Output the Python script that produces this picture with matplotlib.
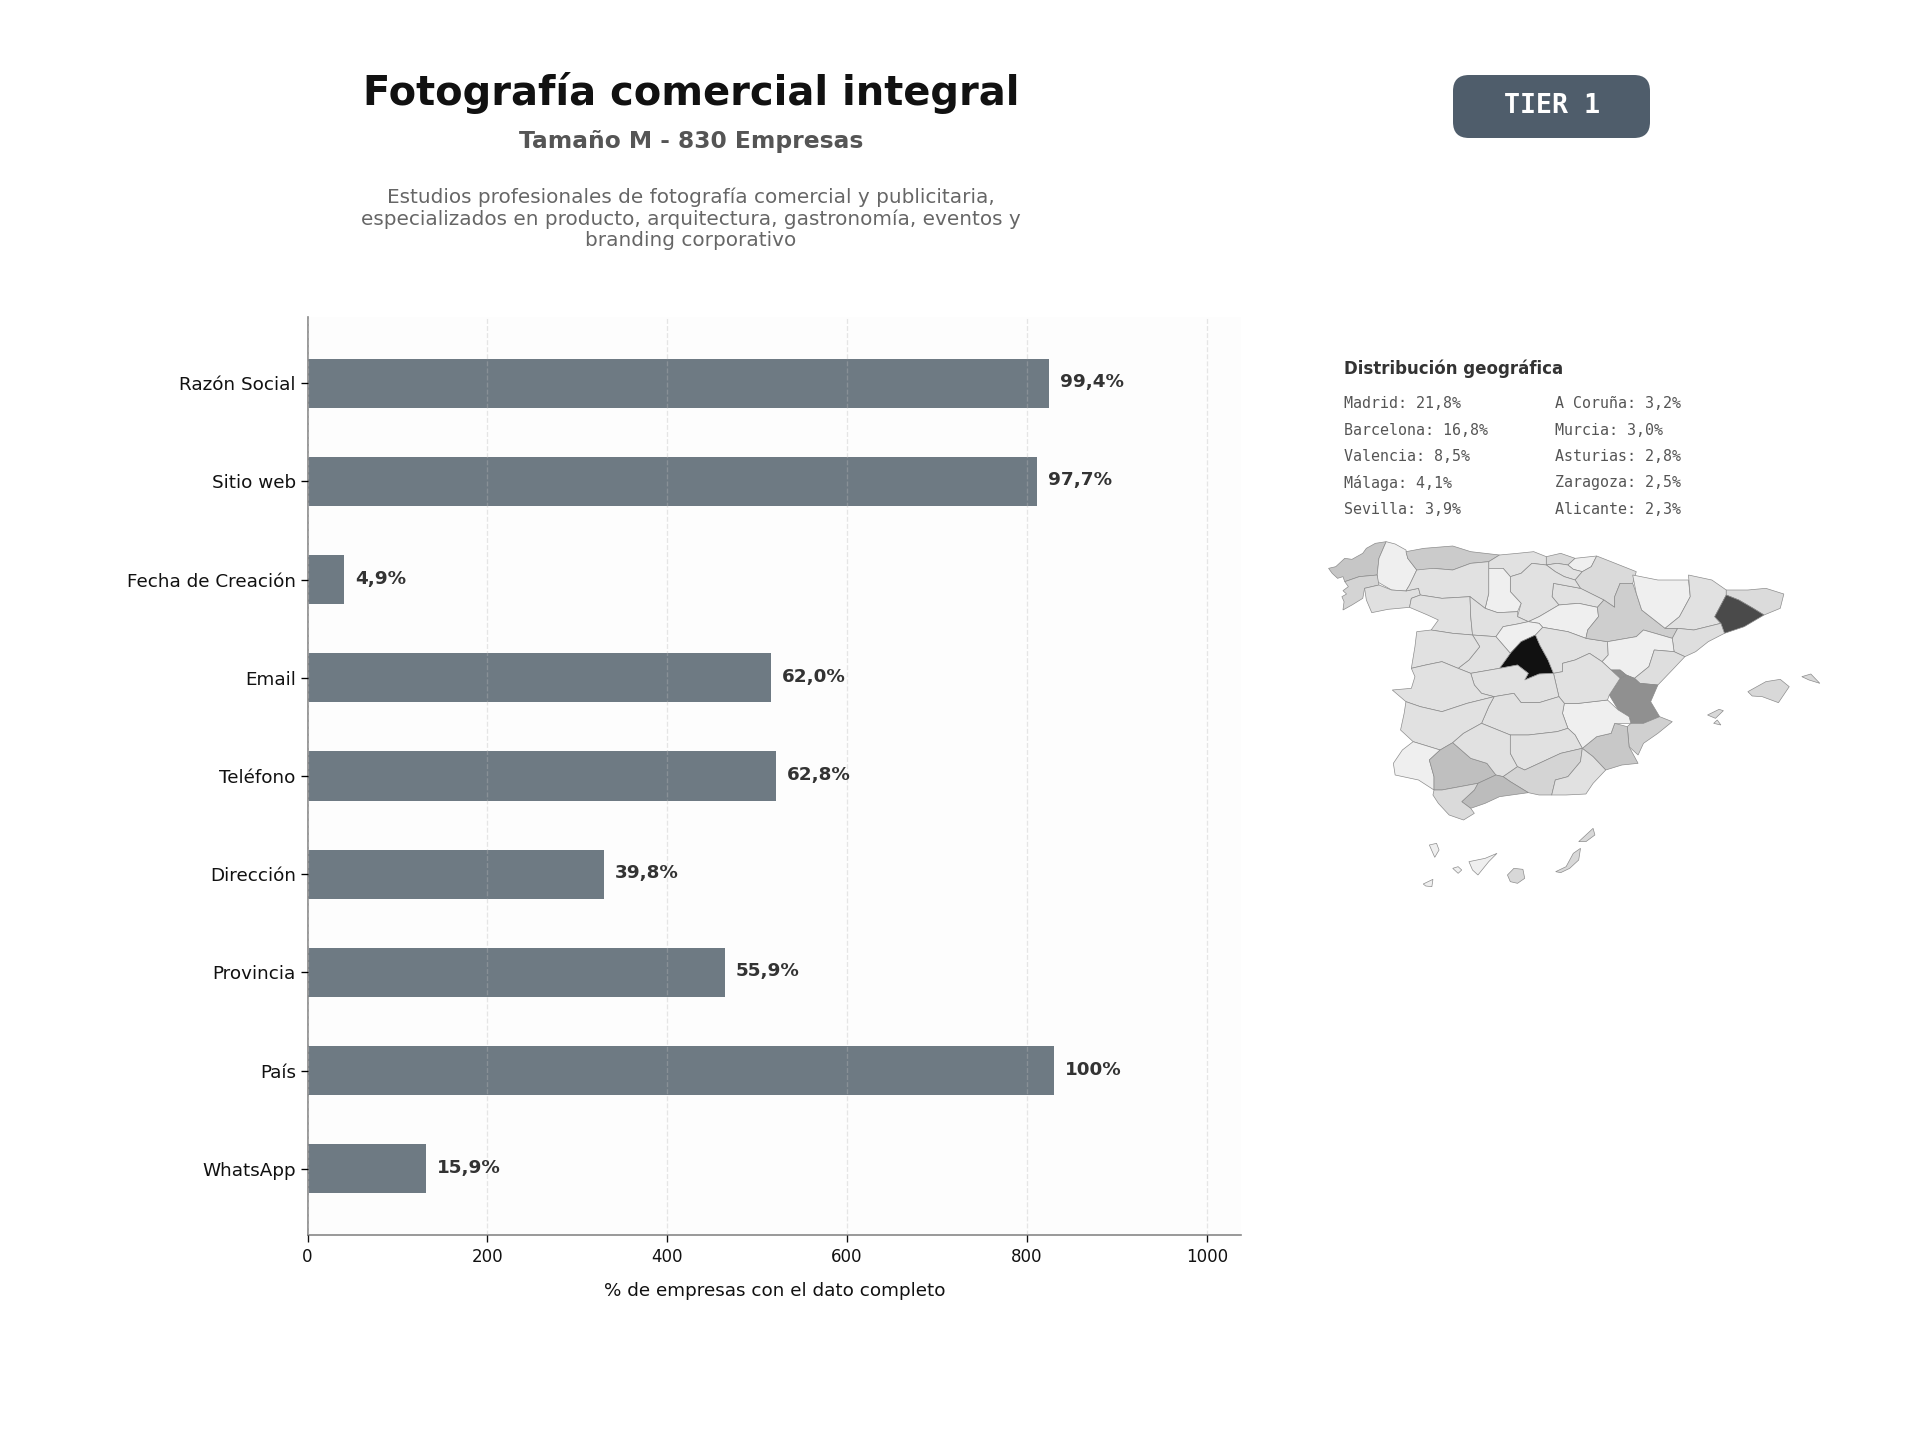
import matplotlib
matplotlib.use("Agg")
import matplotlib.pyplot as plt
from matplotlib.colors import LinearSegmentedColormap
from matplotlib.patches import FancyBboxPatch, Polygon

W, H = 1920, 1440

categories = ["Razón Social", "Sitio web", "Fecha de Creación", "Email", "Teléfono",
              "Dirección", "Provincia", "País", "WhatsApp"]
counts = [825, 811, 41, 515, 521, 330, 464, 830, 132]
pct_labels = ["99,4%", "97,7%", "4,9%", "62,0%", "62,8%", "39,8%", "55,9%", "100%", "15,9%"]
x_ticks = [0, 200, 400, 600, 800, 1000]

title = "Fotografía comercial integral"
subtitle = "Tamaño M - 830 Empresas"
description = ("Estudios profesionales de fotografía comercial y publicitaria,\n"
               "especializados en producto, arquitectura, gastronomía, eventos y\n"
               "branding corporativo")
geo_col1 = ["Madrid: 21,8%", "Barcelona: 16,8%", "Valencia: 8,5%", "Málaga: 4,1%", "Sevilla: 3,9%"]
geo_col2 = ["A Coruña: 3,2%", "Murcia: 3,0%", "Asturias: 2,8%", "Zaragoza: 2,5%", "Alicante: 2,3%"]

# Province outlines: (share %, outline)
provinces = {
 "A Coruña": (3.2, [(85,145),(105,140),(130,115),(150,118),(180,100),(190,85),(215,70),(245,65),(225,115),(220,165),(170,170),(130,185),(125,170),(110,175),(95,160)]),
 "Lugo": (0.3, [(245,65),(270,72),(300,90),(305,115),(330,150),(310,195),(300,213),(260,210),(220,185),(220,165),(225,115)]),
 "Pontevedra": (2.0, [(130,185),(170,170),(220,165),(225,195),(185,205),(180,235),(150,255),(125,270),(128,245),(122,230),(135,222),(125,212),(140,200)]),
 "Ourense": (1.1, [(185,205),(225,195),(260,210),(300,213),(335,205),(340,225),(315,235),(310,262),(250,268),(205,278),(190,240)]),
 "Asturias": (2.8, [(300,95),(350,85),(430,78),(480,95),(560,105),(530,125),(480,130),(430,150),(375,145),(350,158),(330,150),(305,115)]),
 "Cantabria": (1.0, [(560,105),(610,100),(655,95),(690,110),(690,135),(650,130),(620,160),(590,170),(570,145),(530,145),(530,125)]),
 "Bizkaia": (1.6, [(690,110),(730,100),(770,115),(750,135),(720,130),(690,135)]),
 "Gipuzkoa": (0.3, [(770,115),(830,108),(815,140),(790,155),(765,148),(750,135)]),
 "Álava": (1.0, [(690,135),(720,130),(750,135),(765,148),(790,155),(770,180),(740,170),(715,155)]),
 "Navarra": (1.5, [(830,108),(870,125),(940,155),(930,190),(895,190),(880,230),(880,262),(850,240),(785,205),(770,180),(790,155),(815,140)]),
 "La Rioja": (1.0, [(710,190),(785,205),(850,240),(832,262),(780,250),(725,255),(706,230)]),
 "Burgos": (1.0, [(590,170),(620,160),(650,130),(690,135),(715,155),(740,170),(770,180),(785,205),(710,190),(706,230),(725,255),(670,290),(640,305),(610,290),(620,250),(590,215)]),
 "Palencia": (0.3, [(530,145),(570,145),(590,170),(590,215),(620,250),(610,275),(555,278),(520,265),(530,220)]),
 "León": (1.0, [(330,150),(375,145),(430,150),(480,130),(530,125),(530,145),(530,220),(520,265),(478,230),(400,235),(340,225),(335,205),(300,213),(310,195)]),
 "Zamora": (1.0, [(315,235),(340,225),(400,235),(478,230),(480,290),(485,345),(430,340),(370,330),(390,300),(360,285),(310,262)]),
 "Valladolid": (1.0, [(478,230),(520,265),(555,278),(610,275),(610,290),(640,305),(610,312),(570,320),(550,350),(485,345),(480,290)]),
 "Soria": (0.3, [(725,255),(780,250),(832,262),(835,290),(805,330),(800,355),(750,335),(680,322),(670,310),(640,305),(670,290)]),
 "Segovia": (0.3, [(640,305),(670,310),(680,322),(660,345),(620,365),(590,400),(550,350),(570,320),(610,312)]),
 "Madrid": (21.8, [(660,345),(672,375),(695,420),(710,460),(670,462),(630,480),(640,460),(610,435),(560,445),(590,400),(620,365)]),
 "Ávila": (1.0, [(485,345),(550,350),(590,400),(560,445),(480,460),(445,445),(475,420),(505,380)]),
 "Salamanca": (1.0, [(330,335),(370,330),(430,340),(485,345),(505,380),(475,420),(445,445),(400,425),(355,435),(315,445),(325,380)]),
 "Guadalajara": (1.0, [(680,322),(750,335),(800,355),(860,365),(862,405),(845,425),(810,400),(770,420),(735,430),(735,455),(710,460),(695,420),(672,375),(660,345)]),
 "Zaragoza": (2.5, [(895,190),(930,190),(940,220),(955,270),(1020,325),(1055,325),(1040,355),(960,330),(940,350),(860,365),(800,355),(805,330),(835,290),(832,262),(850,240),(880,262),(880,230)]),
 "Huesca": (0.3, [(930,165),(1000,180),(1085,180),(1090,230),(1060,290),(1020,325),(955,270),(940,220)]),
 "Lleida": (1.0, [(1085,165),(1150,180),(1190,210),(1190,225),(1158,290),(1175,310),(1100,330),(1055,325),(1020,325),(1060,290),(1090,230)]),
 "Girona": (1.4, [(1190,210),(1250,210),(1300,205),(1350,222),(1340,265),(1295,285),(1265,265),(1225,240),(1190,225)]),
 "Barcelona": (16.8, [(1190,225),(1225,240),(1265,265),(1295,285),(1240,320),(1185,340),(1175,310),(1158,290)]),
 "Tarragona": (1.2, [(1100,330),(1175,310),(1185,340),(1140,365),(1105,395),(1075,410),(1045,395),(1040,355),(1055,325)]),
 "Teruel": (0.3, [(860,365),(940,350),(960,330),(1040,355),(1045,395),(990,390),(975,440),(935,475),(912,465),(895,450),(870,450),(845,425),(862,405)]),
 "Castellón": (1.2, [(1045,395),(1075,410),(1040,450),(1000,495),(950,490),(935,475),(975,440),(990,390)]),
 "Valencia": (8.5, [(895,475),(912,465),(935,475),(950,490),(1000,495),(980,545),(1005,590),(960,610),(925,610),(920,590),(890,570),(865,525)]),
 "Rincón de Ademuz": (8.5, [(870,450),(895,450),(912,465),(895,475)]),
 "Alicante": (2.3, [(960,610),(1005,590),(1040,605),(1000,640),(960,670),(945,705),(920,680),(915,620),(925,610)]),
 "Murcia": (3.0, [(880,610),(915,620),(920,680),(945,730),(900,735),(855,750),(820,710),(790,685),(830,650),(870,640)]),
 "Albacete": (0.3, [(740,550),(780,550),(860,540),(890,570),(920,590),(925,610),(880,610),(870,640),(830,650),(790,685),(770,645),(750,625),(735,580)]),
 "Cuenca": (1.0, [(735,430),(770,420),(810,400),(845,425),(870,450),(895,475),(865,525),(860,540),(780,550),(740,550),(725,530),(710,460),(735,455)]),
 "Toledo": (1.0, [(480,460),(560,445),(610,435),(640,460),(630,480),(670,462),(710,460),(725,530),(670,548),(620,548),(600,520),(545,530),(510,520),(490,495)]),
 "Ciudad Real": (1.0, [(545,530),(600,520),(620,548),(670,548),(725,530),(740,550),(735,580),(750,625),(720,635),(640,645),(590,645),(510,610),(530,560)]),
 "Cáceres": (1.0, [(315,445),(355,435),(400,425),(445,445),(480,460),(490,495),(510,520),(545,530),(470,550),(400,575),(340,560),(300,545),(262,510),(315,505),(325,470)]),
 "Badajoz": (1.0, [(300,545),(340,560),(400,575),(470,550),(545,530),(530,560),(510,610),(460,640),(430,668),(395,690),(320,665),(285,630),(295,580)]),
 "Huelva": (0.3, [(320,665),(395,690),(365,720),(378,770),(378,810),(335,780),(270,765),(265,730),(290,690)]),
 "Sevilla": (3.9, [(430,668),(480,715),(525,730),(550,765),(500,790),(400,810),(378,810),(378,770),(365,720),(395,690)]),
 "Córdoba": (1.0, [(460,640),(510,610),(590,645),(590,700),(610,740),(570,770),(550,765),(525,730),(480,715),(430,668)]),
 "Jaén": (1.0, [(590,645),(640,645),(720,635),(750,625),(770,645),(790,685),(730,700),(680,725),(630,750),(610,740),(590,700)]),
 "Granada": (2.0, [(790,685),(785,725),(750,770),(715,780),(705,825),(670,825),(640,818),(590,785),(570,770),(610,740),(630,750),(680,725),(730,700)]),
 "Almería": (1.0, [(790,685),(820,710),(855,750),(820,790),(800,822),(745,825),(705,825),(715,780),(750,770),(785,725)]),
 "Málaga": (4.1, [(550,765),(570,770),(590,785),(640,818),(560,830),(520,850),(480,865),(455,845),(490,810),(500,790)]),
 "Cádiz": (1.5, [(378,810),(400,810),(500,790),(490,810),(455,845),(480,865),(490,880),(460,900),(420,885),(390,850),(375,825)]),
 "Mallorca": (1.7, [(1250,515),(1300,485),(1340,478),(1365,500),(1335,548),(1290,530),(1262,528)]),
 "Menorca": (1.7, [(1400,470),(1425,462),(1450,490),(1420,480)]),
 "Ibiza": (1.7, [(1138,585),(1170,568),(1182,572),(1160,595)]),
 "Formentera": (1.0, [(1155,610),(1165,600),(1175,615)]),
 "Lanzarote": (1.7, [(780,965),(800,945),(820,925),(825,945),(800,965)]),
 "Fuerteventura": (1.7, [(716,1055),(745,1040),(765,1000),(785,985),(780,1020),(755,1045),(730,1058)]),
 "Gran Canaria": (1.7, [(582,1065),(600,1045),(625,1048),(630,1075),(610,1090),(590,1085)]),
 "Tenerife": (0.3, [(475,1025),(520,1015),(553,1000),(530,1025),(500,1065),(485,1050)]),
 "La Gomera": (0.3, [(430,1045),(445,1040),(455,1050),(445,1060)]),
 "La Palma": (0.3, [(365,975),(385,970),(392,990),(380,1012)]),
 "El Hierro": (0.3, [(348,1092),(375,1078),(372,1100),(355,1098)]),
}

BAR = "#6e7a83"
fig = plt.figure(figsize=(W / 120, H / 120), dpi=120, facecolor="white")

def px_axes(l, t, r, b, **kw):
    return fig.add_axes([l / W, 1 - b / H, (r - l) / W, (b - t) / H], **kw)

# Bars
ax = px_axes(307.5, 317, 1241, 1235)
ax.set_facecolor("#fdfdfd")
y = list(range(len(categories)))
ax.barh(y, counts, height=0.5, color=BAR, zorder=2)
ax.set_yticks(y, categories, fontsize=11, color="#111111")
ax.set_ylim(8.675, -0.675)
ax.set_xlim(0, 1038)
ax.set_xticks(x_ticks)
ax.tick_params(axis="x", labelsize=10, colors="#111111", length=4, width=0.8)
ax.tick_params(axis="y", length=4, width=0.8, pad=3)
ax.set_xlabel("% de empresas con el dato completo", fontsize=11, color="#111111", labelpad=10)
ax.grid(axis="x", linestyle="--", color="#bbbbbb", alpha=0.35, linewidth=0.8, zorder=3)
ax.set_axisbelow(False)
for s in ("top", "right"):
    ax.spines[s].set_visible(False)
for s in ("left", "bottom"):
    ax.spines[s].set_color("#888888")
    ax.spines[s].set_linewidth(1.0)
for yi, c, lab in zip(y, counts, pct_labels):
    ax.text(c + 12, yi - 0.01, lab, va="center", ha="left", fontsize=11,
            fontweight="bold", color="#333333", zorder=4)

# Header
fig.text(691 / W, 1 - 93 / H, title, fontsize=24, fontweight="bold", color="#111111", ha="center", va="center")
fig.text(691 / W, 1 - 141.5 / H, subtitle, fontsize=14, fontweight="bold", color="#555555", ha="center", va="center")
fig.text(691 / W, 1 - 219 / H, description, fontsize=12, color="#666666", ha="center", va="center", linespacing=1.16)

# Badge
bg = fig.add_axes([0, 0, 1, 1], zorder=-1)
bg.set_xlim(0, W); bg.set_ylim(H, 0); bg.axis("off")
bg.add_patch(FancyBboxPatch((1463, 85), 177, 43, boxstyle="round,pad=10,rounding_size=16",
                            facecolor="#4f5d6b", edgecolor="none"))
fig.text(1552 / W, 1 - 106 / H, "TIER 1", fontsize=16, fontweight="bold", family="DejaVu Sans Mono",
         color="white", ha="center", va="center")

# Geographic list
fig.text(1343.5 / W, 1 - 369 / H, "Distribución geográfica", fontsize=10, fontweight="bold", color="#333333", va="center")
for i, (a, b) in enumerate(zip(geo_col1, geo_col2)):
    yy = 1 - (404 + i * 26.3) / H
    fig.text(1343.5 / W, yy, a, fontsize=9, family="DejaVu Sans Mono", color="#555555", va="center")
    fig.text(1555 / W, yy, b, fontsize=9, family="DejaVu Sans Mono", color="#555555", va="center")

# Map
m = px_axes(1291.5, 520, 1851.5, 920)
m.set_xlim(-18, 1538)
m.set_ylim(1200, 0)
m.axis("off")
grey = LinearSegmentedColormap.from_list("geo", [
    (0.0, "#f4f4f4"), (1.0 / 21.8, "#e0e0e0"), (2.3 / 21.8, "#d0d0d0"), (4.0 / 21.8, "#bdbdbd"),
    (8.5 / 21.8, "#909090"), (16.8 / 21.8, "#4a4a4a"), (1.0, "#111111")])
for name, (share, outline) in provinces.items():
    m.add_patch(Polygon(outline, closed=True, facecolor=grey(share / 21.8),
                        edgecolor="#8a8a8a", linewidth=0.4))

fig.savefig("out.png", dpi=120, facecolor="white")
